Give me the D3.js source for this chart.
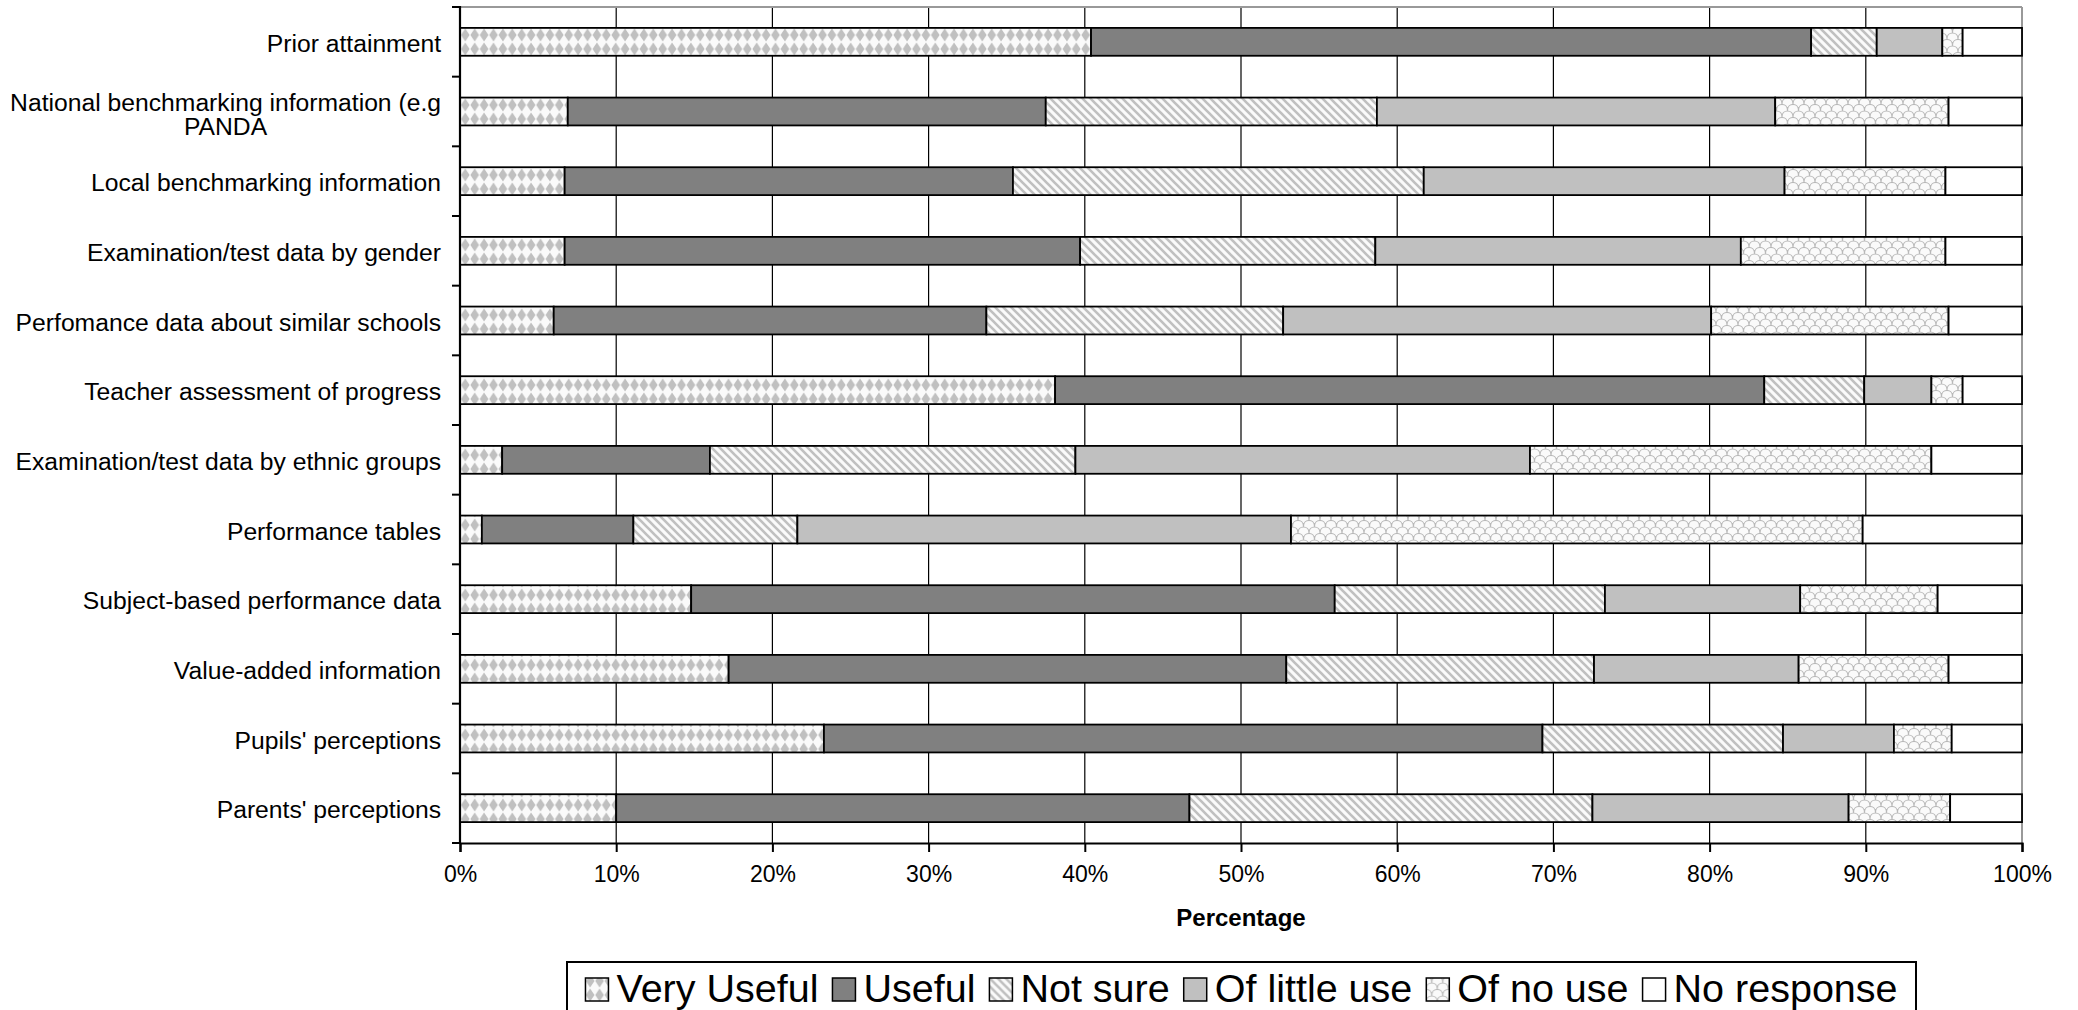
<!DOCTYPE html>
<html>
<head>
<meta charset="utf-8">
<script src="https://cdn.jsdelivr.net/npm/d3@7"></script>
<style>
  html, body { margin: 0; padding: 0; background: #fff; }
  svg { display: block; }
  text { font-family: "Liberation Sans", Arial, sans-serif; fill: #000; }
</style>
</head>
<body>
<svg id="chart" width="2078" height="1010"></svg>
<script>
// ---- data (top to bottom) ----
const categories = [
  "Prior attainment",
  "National benchmarking information (e.g|PANDA",
  "Local benchmarking information",
  "Examination/test data by gender",
  "Perfomance data about similar schools",
  "Teacher assessment of progress",
  "Examination/test data by ethnic groups",
  "Performance tables",
  "Subject-based performance data",
  "Value-added information",
  "Pupils' perceptions",
  "Parents' perceptions"
];
const seriesNames = ["Very Useful", "Useful", "Not sure", "Of little use", "Of no use", "No response"];
const veryUseful  = [40.4,  6.9,  6.7,  6.7,  6.0, 38.1,  2.7,  1.4, 14.8, 17.2, 23.3, 10.0];
const useful      = [46.1, 30.6, 28.7, 33.0, 27.7, 45.4, 13.3,  9.7, 41.2, 35.7, 46.0, 36.7];
const notSure     = [ 4.2, 21.2, 26.3, 18.9, 19.0,  6.4, 23.4, 10.5, 17.3, 19.7, 15.4, 25.8];
const ofLittleUse = [ 4.2, 25.5, 23.1, 23.4, 27.4,  4.3, 29.1, 31.6, 12.5, 13.1,  7.1, 16.4];
const ofNoUse     = [ 1.3, 11.1, 10.3, 13.1, 15.2,  2.0, 25.7, 36.6,  8.8,  9.6,  3.7,  6.5];
const noResponse  = [ 3.8,  4.7,  4.9,  4.9,  4.7,  3.8,  5.8, 10.2,  5.4,  4.7,  4.5,  4.6];
const xTicks = [0, 10, 20, 30, 40, 50, 60, 70, 80, 90, 100];
const xTitle = "Percentage";

const seriesValues = [veryUseful, useful, notSure, ofLittleUse, ofNoUse, noResponse];
const rows = categories.map((c, i) => {
  const r = { cat: c };
  seriesNames.forEach((s, k) => r[s] = seriesValues[k][i]);
  return r;
});

// ---- layout ----
const L = 460, R = 2022, T = 7, B = 843;
const svg = d3.select("#chart");
svg.append("rect").attr("width", 2078).attr("height", 1010).attr("fill", "#fff");

const x = d3.scaleLinear().domain([0, 100]).range([L, R]);
const y = d3.scaleBand().domain(categories).range([T, B]).paddingInner(0.6).paddingOuter(0.3);
const yB = d3.scaleLinear().domain([0, categories.length]).range([T, B]);

// ---- patterns ----
const defs = svg.append("defs");
// Very useful: diamonds
const pVU = defs.append("pattern").attr("id", "pVU").attr("patternUnits", "userSpaceOnUse")
  .attr("width", 9.4).attr("height", 14);
pVU.append("rect").attr("width", 9.4).attr("height", 14).attr("fill", "#fafafa");
pVU.append("path").attr("d", "M4.7,0.6 L9,7 L4.7,13.4 L0.4,7 Z").attr("fill", "#c0c0c0");
// Not sure: diagonal stripes "\"
const pNS = defs.append("pattern").attr("id", "pNS").attr("patternUnits", "userSpaceOnUse")
  .attr("width", 8).attr("height", 8);
pNS.append("rect").attr("width", 8).attr("height", 8).attr("fill", "#fafafa");
pNS.append("path").attr("d", "M-2,-2 L10,10 M-2,6 L2,10 M6,-2 L10,2")
  .attr("stroke", "#c0c0c0").attr("stroke-width", 2.6);
// Of no use: scales
const pNU = defs.append("pattern").attr("id", "pNU").attr("patternUnits", "userSpaceOnUse")
  .attr("width", 11).attr("height", 13);
pNU.append("rect").attr("width", 11).attr("height", 13).attr("fill", "#fafafa");
pNU.append("path")
  .attr("d", "M0,13 C0,5 11,5 11,13 M-5.5,6.5 C-5.5,-1.5 5.5,-1.5 5.5,6.5 M5.5,6.5 C5.5,-1.5 16.5,-1.5 16.5,6.5")
  .attr("fill", "none").attr("stroke", "#b8b8b8").attr("stroke-width", 1.1);

const fills = {
  "Very Useful": "url(#pVU)",
  "Useful": "#808080",
  "Not sure": "url(#pNS)",
  "Of little use": "#c0c0c0",
  "Of no use": "url(#pNU)",
  "No response": "#ffffff"
};

// ---- gridlines ----
svg.append("g").selectAll("line").data(xTicks.filter(t => t > 0 && t < 100)).join("line")
  .attr("x1", d => x(d)).attr("x2", d => x(d)).attr("y1", T).attr("y2", B)
  .attr("stroke", "#000").attr("stroke-width", 1.2);
// top and right plot border (gray)
svg.append("line").attr("x1", L).attr("x2", R).attr("y1", T).attr("y2", T)
  .attr("stroke", "#999").attr("stroke-width", 2);
svg.append("line").attr("x1", R).attr("x2", R).attr("y1", T).attr("y2", B)
  .attr("stroke", "#999").attr("stroke-width", 2);

// ---- bars ----
const stack = d3.stack().keys(seriesNames);
const stacked = stack(rows);
svg.append("g").selectAll("g").data(stacked).join("g")
  .attr("fill", d => fills[d.key])
  .selectAll("rect").data(d => d).join("rect")
  .attr("x", d => x(d[0]))
  .attr("width", d => x(d[1]) - x(d[0]))
  .attr("y", d => y(d.data.cat))
  .attr("height", y.bandwidth())
  .attr("stroke", "#000").attr("stroke-width", 1.8);

// ---- axes ----
// left axis with ticks at band boundaries
svg.append("g").selectAll("line").data(d3.range(categories.length + 1)).join("line")
  .attr("x1", L - 8).attr("x2", L).attr("y1", d => yB(d)).attr("y2", d => yB(d))
  .attr("stroke", "#000").attr("stroke-width", 2);
svg.append("line").attr("x1", L).attr("x2", L).attr("y1", T - 1).attr("y2", B + 1)
  .attr("stroke", "#000").attr("stroke-width", 2.2);

// bottom axis
const xAxis = d3.axisBottom(x).tickValues(xTicks).tickFormat(d => d + "%").tickSize(9).tickPadding(14);
const gx = svg.append("g").attr("transform", `translate(0,${B})`).call(xAxis);
gx.select(".domain").attr("stroke", "#000").attr("stroke-width", 2.2);
gx.selectAll(".tick line").attr("stroke", "#000").attr("stroke-width", 2);
gx.selectAll(".tick text").attr("font-size", 23).attr("font-family", "Liberation Sans, Arial, sans-serif")
  .attr("fill", "#000");

// category labels
const labG = svg.append("g").attr("font-size", 24.7);
categories.forEach(c => {
  const lines = c.split("|");
  const cy = y(c) + y.bandwidth() / 2;
  if (lines.length === 1) {
    labG.append("text").attr("x", L - 19).attr("y", cy + 10)
      .attr("text-anchor", "end").text(lines[0]);
  } else {
    const t = labG.append("text").attr("y", cy - 1).attr("text-anchor", "middle");
    t.append("tspan").attr("x", 0).text(lines[0]);
    t.append("tspan").attr("x", 0).attr("dy", 24).text(lines[1]);
    const w = t.node().getBBox().width;
    t.attr("transform", `translate(${L - 19 - w / 2},0)`);
  }
});

// axis title
svg.append("text").attr("x", (L + R) / 2).attr("y", 926).attr("text-anchor", "middle")
  .attr("font-size", 24).attr("font-weight", "bold").text(xTitle);

// ---- legend ----
const legBox = { x: 567, y: 962, w: 1349 };
svg.append("rect").attr("x", legBox.x).attr("y", legBox.y).attr("width", legBox.w).attr("height", 60)
  .attr("fill", "#fff").attr("stroke", "#000").attr("stroke-width", 2);
const legG = svg.append("g").attr("font-size", 39.5);
const items = seriesNames.map(s => {
  const g = legG.append("g");
  g.append("rect").attr("width", 23).attr("height", 23).attr("y", -24)
    .attr("fill", fills[s]).attr("stroke", "#000").attr("stroke-width", 1.5);
  const t = g.append("text").attr("x", 31).attr("y", 0).text(s);
  return { g, w: 31 + t.node().getComputedTextLength() };
});
const gap = 14;
const total = d3.sum(items, d => d.w) + gap * (items.length - 1);
let cx = legBox.x + (legBox.w - total) / 2;
items.forEach(it => {
  it.g.attr("transform", `translate(${cx},1002)`);
  cx += it.w + gap;
});
</script>
</body>
</html>
